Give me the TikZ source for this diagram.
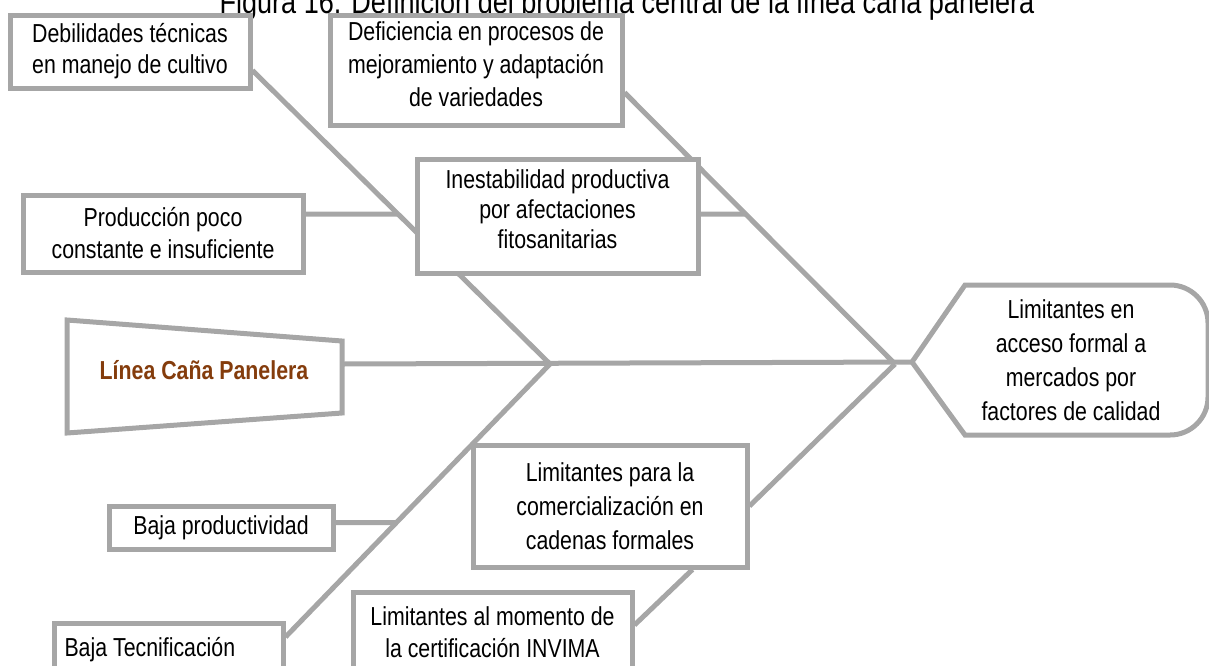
\documentclass[tikz,border=0pt]{standalone}
\usepackage{fontspec}
\setmainfont{Liberation Sans}[FakeStretch=0.82]
\usetikzlibrary{calc,backgrounds}

\definecolor{huesogris}{HTML}{A6A6A6}
\definecolor{cafepanela}{HTML}{843C0C}

\begin{document}
\begin{tikzpicture}[x=0.5pt, y=-0.5pt,
    causa/.style={draw=huesogris, line width=2.5pt, fill=white, align=center, inner sep=2pt,
      font=\fontsize{13}{16}\selectfont},
    causaalta/.style={causa, font=\fontsize{13}{17}\selectfont},
    hueso/.style={draw=huesogris, line width=2.5pt}]
    \useasboundingbox (0,0) rectangle (1209,665);

    % Title
    \node[anchor=base, font=\fontsize{16.5}{18}\selectfont] (titulo) at (627,13)
      {Figura 16. Definición del problema central de la línea caña panelera};

    % Causes (upper side)
    \node[causa, font=\fontsize{13}{15.5}\selectfont, minimum width=120pt, minimum height=36.5pt]
      (debilidades) at (130,51.5) {Debilidades técnicas\\en manejo de cultivo};
    \node[causa, font=\fontsize{13}{16.5}\selectfont, minimum width=146pt, minimum height=55pt]
      (deficiencia) at (476,70)
      {Deficiencia en procesos de\\mejoramiento y adaptación\\de variedades\\[-11pt]};
    \node[causa, minimum width=140pt, minimum height=38.5pt] (produccion) at (163,233.5)
      {Producción poco\\constante e insuficiente};
    \node[causa, font=\fontsize{13}{15}\selectfont, minimum width=140.5pt, minimum height=57pt]
      (inestabilidad) at (557.5,216) {Inestabilidad productiva\\por afectaciones\\fitosanitarias\\[-8pt]};

    % Causes (lower side)
    \node[causaalta, minimum width=137pt, minimum height=61pt] (comercial) at (610,506)
      {Limitantes para la\\comercialización en\\cadenas formales};
    \node[causa, minimum width=112pt, minimum height=21.5pt] (productividad) at (221,527.5)
      {Baja productividad};
    \node[causa, minimum width=114.5pt, minimum height=27pt, align=flush left, inner xsep=4pt,
      text width=104pt] (tecnificacion) at (168.5,650) {Baja Tecnificación};
    \node[causa, minimum width=139.5pt, minimum height=40pt] (invima) at (492.5,632)
      {Limitantes al momento de\\la certificación INVIMA};

    % Tail
    \coordinate (colaNO) at (67,320);
    \coordinate (colaNE) at (342,341);
    \coordinate (colaSE) at (342,413);
    \coordinate (colaSO) at (67,433);
    \draw[hueso, line join=miter] (colaNO) -- (colaNE) -- (colaSE) -- (colaSO) -- cycle;
    \node[font=\fontsize{13}{17}\selectfont\bfseries, text=cafepanela] (linea) at (204,370)
      {Línea Caña Panelera};
    \coordinate (colaE) at (342,364);

    % Head
    \coordinate (punta) at (912,362);
    \draw[hueso] (punta) -- (965,285) [rounded corners=19pt] -- (1208,285) -- (1208,435)
      [sharp corners] -- (965,435) -- cycle;
    \node[align=center, font=\fontsize{13}{17}\selectfont] (efecto) at (1071,360)
      {Limitantes en\\acceso formal a\\mercados por\\factores de calidad};

    % Bones
    \coordinate (j1) at (550,364);
    \coordinate (j2) at (895,364);
    \coordinate (h1) at ([yshift=10pt]debilidades.south east);
    \coordinate (h2) at ([yshift=17.5pt]deficiencia.south east);
    \coordinate (h3) at ([yshift=6.5pt]tecnificacion.east);
    \coordinate (s1) at ([yshift=9.75pt]produccion.east);
    \coordinate (s1b) at ([xshift=20pt]s1);
    \coordinate (s2) at ([yshift=1pt]inestabilidad.east);
    \coordinate (s2b) at ([xshift=20pt]s2);
    \coordinate (s3) at ([yshift=2.5pt]productividad.east);
    \coordinate (s3b) at ([xshift=20pt]s3);
    \begin{scope}[on background layer]
      \draw[hueso] (colaE) -- (punta);
      \draw[hueso] (h1) -- (j1);
      \draw[hueso] (j1) -- (h3);
      \draw[hueso] (h2) -- (j2);
      \draw[hueso] (comercial.east) -- (j2);
      \draw[hueso] (s1) -- (intersection of s1--s1b and h1--j1);
      \draw[hueso] (s2) -- (intersection of s2--s2b and h2--j2);
      \draw[hueso] (s3) -- (intersection of s3--s3b and j1--h3);
      \draw[hueso] ([yshift=3.5pt]invima.east) -- ([xshift=-28.5pt]comercial.south east);
    \end{scope}
\end{tikzpicture}
\end{document}
